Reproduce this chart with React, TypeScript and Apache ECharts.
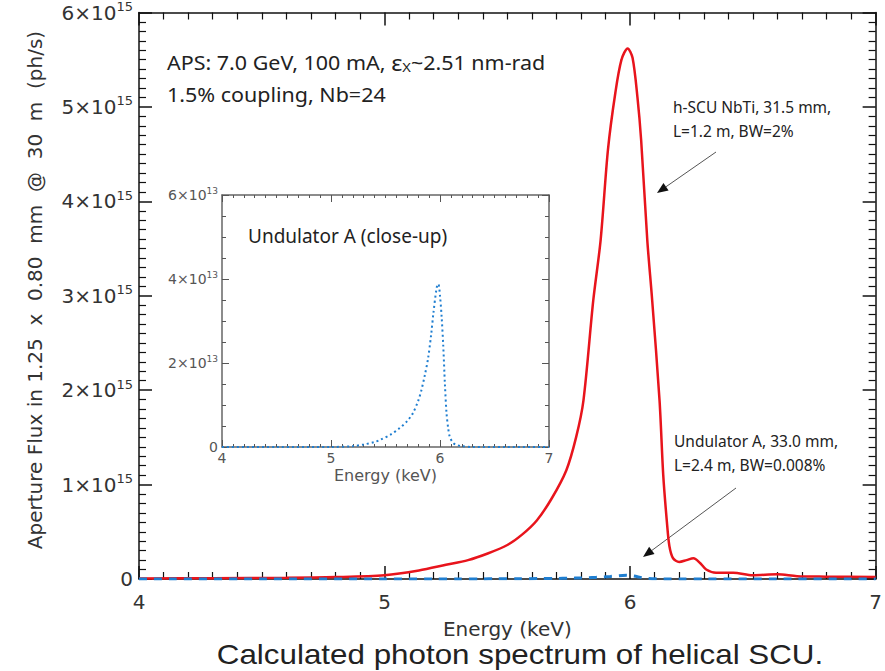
import React, { useEffect, useRef } from 'react';
import * as echarts from 'echarts';

// h-SCU NbTi spectrum (energy in keV, flux in units of 1e15 ph/s)
const scuEnergy = [4.0, 4.3, 4.6, 4.8, 5.0, 5.14, 5.25, 5.34, 5.42, 5.5, 5.56, 5.62, 5.68, 5.74, 5.78, 5.81, 5.85, 5.88, 5.91, 5.94, 5.965, 5.99, 6.01, 6.03, 6.045, 6.07, 6.09, 6.12, 6.135, 6.15, 6.16, 6.175, 6.2, 6.23, 6.258, 6.285, 6.31, 6.35, 6.42, 6.5, 6.6, 6.68, 6.8, 7.0];
const scuFlux = [0.005, 0.008, 0.012, 0.02, 0.04, 0.09, 0.15, 0.2, 0.27, 0.36, 0.47, 0.62, 0.85, 1.15, 1.5, 1.89, 2.95, 3.59, 4.55, 5.15, 5.5, 5.62, 5.52, 5.1, 4.65, 3.59, 2.95, 1.89, 1.1, 0.6, 0.35, 0.22, 0.18, 0.2, 0.22, 0.17, 0.1, 0.065, 0.066, 0.04, 0.05, 0.03, 0.025, 0.02];

// Undulator A spectrum (energy in keV, flux in units of 1e13 ph/s)
const undEnergy = [4.0, 4.5, 5.0, 5.2, 5.3, 5.4, 5.45, 5.55, 5.63, 5.7, 5.75, 5.8, 5.83, 5.86, 5.89, 5.92, 5.94, 5.97, 5.985, 6.0, 6.015, 6.03, 6.045, 6.06, 6.075, 6.09, 6.12, 6.15, 6.2, 6.3, 6.6, 7.0];
const undFlux = [0, 0, 0, 0.02, 0.06, 0.12, 0.17, 0.3, 0.45, 0.62, 0.8, 1.1, 1.36, 1.7, 2.1, 2.7, 3.2, 3.8, 3.88, 3.6, 3.1, 2.4, 1.5, 0.8, 0.45, 0.24, 0.1, 0.05, 0.02, 0, 0, 0];

const energyMin = 4;
const energyMax = 7;
const mainFluxMax = 6e15;
const mainFluxStep = 1e15;
const insetFluxMax = 6e13;
const insetFluxStep = 2e13;

const xTitle = 'Energy (keV)';
const yTitle = 'Aperture Flux in 1.25  x  0.80  mm  @  30  m  (ph/s)';
const caption = 'Calculated photon spectrum of helical SCU.';

const TICK_FONT = '"DejaVu Sans", "Noto Sans", sans-serif';
const ANN_FONT = '"Noto Sans", "Open Sans", sans-serif';

function arrow(x1: number, y1: number, x2: number, y2: number, color: string) {
  const dx = x2 - x1, dy = y2 - y1;
  const len = Math.hypot(dx, dy);
  const ux = dx / len, uy = dy / len;
  const hl = 11, hw = 4.5;
  const bx = x2 - ux * hl, by = y2 - uy * hl;
  const nx = -uy, ny = ux;
  return [
    { type: 'line', shape: { x1, y1, x2: bx, y2: by }, style: { stroke: color, lineWidth: 1 } },
    { type: 'polygon', shape: { points: [[x2, y2], [bx + nx * hw, by + ny * hw], [bx - nx * hw, by - ny * hw]] }, style: { fill: '#111' } },
  ];
}

function supFormatter(exp: number) {
  return (v: number) => (v === 0 ? '0' : `{b|${Math.round(v / Math.pow(10, exp))}×10}{s|${exp}}`);
}

export default function App() {
  const ref = useRef<HTMLDivElement>(null);
  useEffect(() => {
    if (!ref.current) return;
    const chart = echarts.init(ref.current, undefined, { renderer: 'svg' });
    const axisLine = { show: true, onZero: false, lineStyle: { color: '#111', width: 1.5 } };
    const mainTick = { show: true, inside: true, length: 13, lineStyle: { color: '#111', width: 1.5 } };
    const mainMinor = { show: true, splitNumber: 10, length: 7, lineStyle: { color: '#111', width: 1.2 } };
    const insetLine = { show: true, onZero: false, lineStyle: { color: '#666', width: 1.5 } };
    const insetTick = { show: true, inside: true, length: 7, lineStyle: { color: '#555', width: 1 } };
    const insetMinorX = { show: true, splitNumber: 10, length: 3, lineStyle: { color: '#555' } };
    const insetMinorY = { show: true, splitNumber: 4, length: 4, lineStyle: { color: '#555' } };
    const mainYRich = {
      b: { fontSize: 20, color: '#333', fontFamily: TICK_FONT },
      s: { fontSize: 13, color: '#333', fontFamily: TICK_FONT, padding: [0, 0, 12, 0] },
    };
    const insetYRich = {
      b: { fontSize: 14, color: '#555', fontFamily: TICK_FONT },
      s: { fontSize: 9, color: '#555', fontFamily: TICK_FONT, padding: [0, 0, 8, 0] },
    };

    const option: any = {
      animation: false,
      backgroundColor: '#fff',
      grid: [
        { left: 139, top: 12, width: 741, height: 567 },
        { left: 222, top: 195, width: 327, height: 252, show: true, backgroundColor: '#fff', borderWidth: 0 },
      ],
      xAxis: [
        {
          gridIndex: 0, type: 'value', position: 'bottom', min: energyMin, max: energyMax, interval: 1,
          axisLine, axisTick: mainTick, minorTick: mainMinor, splitLine: { show: false },
          axisLabel: { fontSize: 20, color: '#333', fontFamily: TICK_FONT, margin: 13 },
          name: xTitle, nameLocation: 'middle', nameGap: 40,
          nameTextStyle: { fontSize: 20, color: '#333', fontFamily: TICK_FONT },
        },
        {
          gridIndex: 0, type: 'value', position: 'top', min: energyMin, max: energyMax, interval: 1,
          axisLine, axisTick: mainTick, minorTick: mainMinor, splitLine: { show: false },
          axisLabel: { show: false },
        },
        {
          gridIndex: 1, type: 'value', position: 'bottom', min: energyMin, max: energyMax, interval: 1,
          axisLine: insetLine, axisTick: insetTick, minorTick: insetMinorX,
          splitLine: { show: false },
          axisLabel: { fontSize: 14, color: '#555', fontFamily: TICK_FONT, margin: 4 },
          name: xTitle, nameLocation: 'middle', nameGap: 20,
          nameTextStyle: { fontSize: 16, color: '#555', fontFamily: TICK_FONT },
        },
        {
          gridIndex: 1, type: 'value', position: 'top', min: energyMin, max: energyMax, interval: 1,
          axisLine: insetLine, axisTick: insetTick, minorTick: insetMinorX,
          splitLine: { show: false }, axisLabel: { show: false },
        },
      ],
      yAxis: [
        {
          gridIndex: 0, type: 'value', position: 'left', min: 0, max: mainFluxMax, interval: mainFluxStep,
          axisLine, axisTick: mainTick, minorTick: mainMinor, splitLine: { show: false },
          axisLabel: { formatter: supFormatter(15), rich: mainYRich, fontSize: 20, color: '#333', fontFamily: TICK_FONT, margin: 6 },
        },
        {
          gridIndex: 0, type: 'value', position: 'right', min: 0, max: mainFluxMax, interval: mainFluxStep,
          axisLine, axisTick: mainTick, minorTick: mainMinor, splitLine: { show: false }, axisLabel: { show: false },
        },
        {
          gridIndex: 1, type: 'value', position: 'left', min: 0, max: insetFluxMax, interval: insetFluxStep,
          axisLine: insetLine, axisTick: insetTick, minorTick: insetMinorY,
          splitLine: { show: false },
          axisLabel: { formatter: supFormatter(13), rich: insetYRich, fontSize: 14, color: '#555', fontFamily: TICK_FONT, margin: 4 },
        },
        {
          gridIndex: 1, type: 'value', position: 'right', min: 0, max: insetFluxMax, interval: insetFluxStep,
          axisLine: insetLine, axisTick: insetTick, minorTick: insetMinorY,
          splitLine: { show: false }, axisLabel: { show: false },
        },
      ],
      series: [
        {
          name: 'h-SCU NbTi', type: 'line', xAxisIndex: 0, yAxisIndex: 0, showSymbol: false, smooth: 0.3,
          data: scuEnergy.map((e, i) => [e, scuFlux[i] * 1e15]),
          lineStyle: { color: '#e8141c', width: 2.5 }, z: 3,
        },
        {
          name: 'Undulator A', type: 'line', xAxisIndex: 0, yAxisIndex: 0, showSymbol: false, smooth: 0.3,
          data: undEnergy.map((e, i) => [e, undFlux[i] * 1e13]),
          lineStyle: { color: '#1f7ed0', width: 3, type: [8, 7] }, z: 4,
        },
        {
          name: 'Undulator A (close-up)', type: 'line', xAxisIndex: 2, yAxisIndex: 2, showSymbol: false, smooth: 0.3,
          data: undEnergy.map((e, i) => [e, undFlux[i] * 1e13]),
          lineStyle: { color: '#1f7ed0', width: 2, type: [2, 3] }, z: 4,
        },
      ],
      graphic: [
        {
          type: 'text', x: 35, y: 290, rotation: Math.PI / 2,
          style: { text: yTitle, fontSize: 20, fill: '#333', fontFamily: TICK_FONT, textAlign: 'center', textVerticalAlign: 'middle' },
        },
        {
          type: 'text', x: 167, y: 63, scaleX: 1.13,
          style: {
            text: 'APS: 7.0 GeV, 100 mA, {e|ε}{x|X}~2.51 nm-rad',
            rich: { e: { fontSize: 21, fill: '#222', fontFamily: ANN_FONT }, x: { fontSize: 13, fill: '#222', fontFamily: ANN_FONT, padding: [8, 0, 0, 0] } },
            fontSize: 19, fill: '#222', fontFamily: ANN_FONT, textVerticalAlign: 'middle',
          },
        },
        { type: 'text', x: 167, y: 95, scaleX: 1.13, style: { text: '1.5% coupling, Nb=24', fontSize: 19, fill: '#222', fontFamily: ANN_FONT, textVerticalAlign: 'middle' } },
        { type: 'text', x: 248, y: 236, style: { text: 'Undulator A (close-up)', fontSize: 19, fill: '#222', fontFamily: ANN_FONT, textVerticalAlign: 'middle' } },
        { type: 'text', x: 673, y: 107, style: { text: 'h-SCU NbTi, 31.5 mm,', fontSize: 15.5, fill: '#222', fontFamily: ANN_FONT, textVerticalAlign: 'middle' } },
        { type: 'text', x: 673, y: 131, style: { text: 'L=1.2 m, BW=2%', fontSize: 15.5, fill: '#222', fontFamily: ANN_FONT, textVerticalAlign: 'middle' } },
        { type: 'text', x: 674, y: 441, style: { text: 'Undulator A, 33.0 mm,', fontSize: 15.5, fill: '#222', fontFamily: ANN_FONT, textVerticalAlign: 'middle' } },
        { type: 'text', x: 674, y: 465, style: { text: 'L=2.4 m, BW=0.008%', fontSize: 15.5, fill: '#222', fontFamily: ANN_FONT, textVerticalAlign: 'middle' } },
        ...arrow(716, 152, 657, 193, '#555'),
        ...arrow(736, 488, 643, 557, '#555'),
        {
          type: 'text', x: 520, y: 654, scaleX: 1.12,
          style: { text: caption, fontSize: 28, fill: '#222', fontFamily: '"Liberation Sans", Arial, sans-serif', textAlign: 'center', textVerticalAlign: 'middle' },
        },
      ],
    };
    chart.setOption(option);
    return () => chart.dispose();
  }, []);
  return <div ref={ref} style={{ position: 'absolute', left: 0, top: 0, width: 885, height: 671 }} />;
}
